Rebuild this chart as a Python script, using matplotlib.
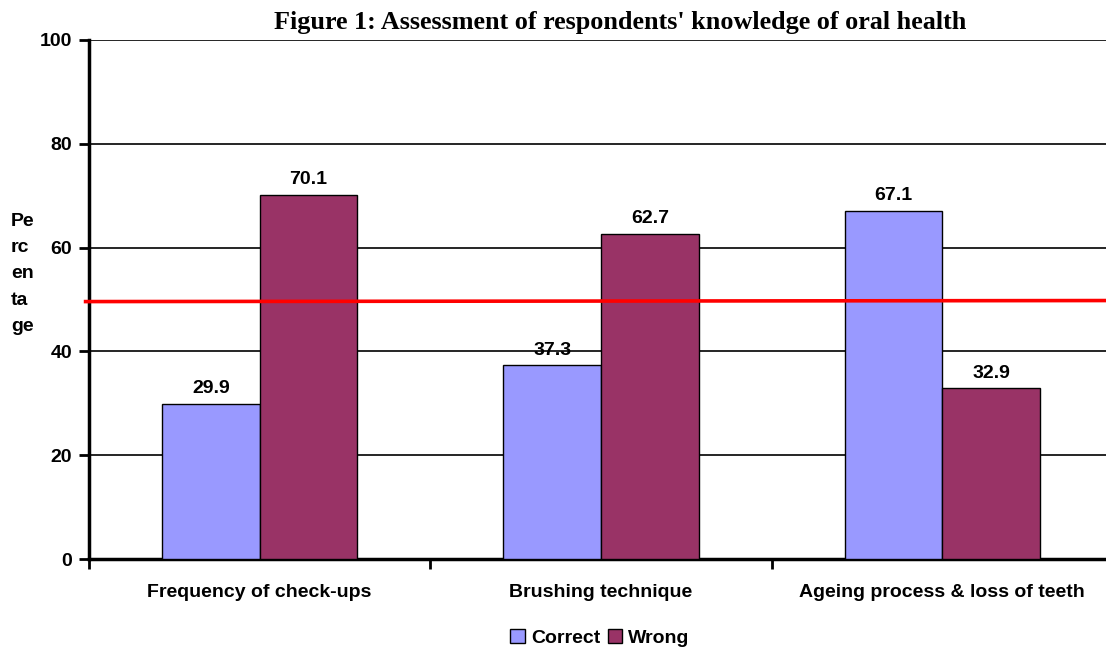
import matplotlib
matplotlib.use("Agg")
import matplotlib.pyplot as plt
import numpy as np
from matplotlib.patches import Patch

categories = ["Frequency of check-ups", "Brushing technique", "Ageing process & loss of teeth"]
correct = [29.9, 37.3, 67.1]
wrong = [70.1, 62.7, 32.9]
series_names = ["Correct", "Wrong"]
yticks = [0, 20, 40, 60, 80, 100]
red_line_y = [49.6, 49.8]
title = "Figure 1: Assessment of respondents' knowledge of oral health"

c_correct = "#9999FF"
c_wrong = "#993366"
FS = 14

fig = plt.figure(figsize=(11.06, 6.53), dpi=100)
ax = fig.add_axes([89/1106, (653-559)/653, (1113-89)/1106, (559-40)/653])

x = np.arange(len(categories))
w = 0.286
ax.bar(x - w/2, correct, w, color=c_correct, edgecolor="black", linewidth=1, zorder=3)
ax.bar(x + w/2, wrong, w, color=c_wrong, edgecolor="black", linewidth=1, zorder=3)

for xi, v in zip(x - w/2, correct):
    ax.text(xi, v + 1.3, f"{v}", ha="center", va="bottom", fontsize=FS,
            fontweight="bold", family="Liberation Sans")
for xi, v in zip(x + w/2, wrong):
    ax.text(xi, v + 1.3, f"{v}", ha="center", va="bottom", fontsize=FS,
            fontweight="bold", family="Liberation Sans")

ax.set_xlim(-0.5, len(categories) - 0.5)
ax.set_ylim(0, 100)
ax.set_yticks(yticks)
ax.set_yticklabels([str(t) for t in yticks], fontsize=FS, fontweight="bold", family="Liberation Sans")
ax.yaxis.grid(True, color="black", linewidth=1.2, zorder=0)
ax.set_axisbelow(True)

ax.set_xticks(np.arange(len(categories) + 1) - 0.5)
ax.set_xticklabels([])
ax.tick_params(axis="x", length=7, width=2, direction="out")
ax.tick_params(axis="y", length=7, width=2, direction="out", pad=5)
for xi, lab in zip(x, categories):
    ax.text(xi, -0.065, lab, transform=ax.get_xaxis_transform(), ha="center", va="center",
            fontsize=FS, fontweight="bold", family="Liberation Sans")

for s in ["top", "right"]:
    ax.spines[s].set_visible(False)
ax.spines["left"].set_linewidth(2.5)
ax.spines["bottom"].set_linewidth(2.5)

ax.plot([-0.51, 2.5], red_line_y, color="red", linewidth=2.6, zorder=5, clip_on=False)

fig.text(11/1106, 1 - 274/653, "Pe\nrc\nen\nta\nge", ha="left", va="center", fontsize=FS,
         fontweight="bold", family="Liberation Sans", linespacing=1.7, multialignment="left")

fig.text(620/1106, 1 - 22/653, title, ha="center", va="center", fontsize=18.8,
         fontweight="bold", family="Liberation Serif")

handles = [Patch(facecolor=c_correct, edgecolor="black"), Patch(facecolor=c_wrong, edgecolor="black")]
fig.legend(handles, series_names, loc="center", bbox_to_anchor=(600/1106, 1 - 638/653), ncol=2,
           frameon=False, prop={"family": "Liberation Sans", "weight": "bold", "size": FS},
           handlelength=0.75, handleheight=0.75, handletextpad=0.3, columnspacing=0.4)

fig.savefig("out.png", dpi=100)
